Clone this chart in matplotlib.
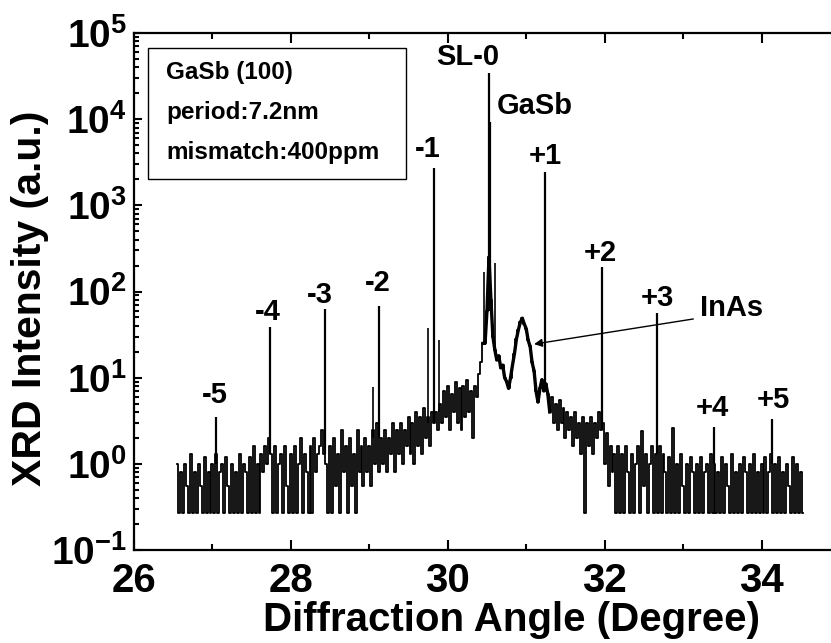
import matplotlib
matplotlib.use('Agg')
import matplotlib.pyplot as plt
import numpy as np
from matplotlib.patches import Rectangle

plt.rcParams['font.family'] = 'Liberation Sans'
plt.rcParams['font.weight'] = 'bold'
plt.rcParams['mathtext.fontset'] = 'custom'
plt.rcParams['mathtext.rm'] = 'Liberation Sans:bold'
plt.rcParams['mathtext.bf'] = 'Liberation Sans:bold'
plt.rcParams['axes.unicode_minus'] = False

# ---- scan, step 0.025 deg from 26.55 ----
scan_start, scan_step = 26.55, 0.025
F = 0.27  # detector floor
left_wing = [1.0, F, 0.8, F, 1.0, 0.55, F, 1.3, F, 0.8,
             F, 1.0, 0.55, F, 1.2, F, 0.8, F, 1.0, F,
             1.3, F, 0.8, 1.0, F, 1.2, 0.55, F, 1.0, F,
             0.8, F, 1.3, F, 1.0, 0.8, F, 1.2, F, 1.6,
             F, 1.0, F, 1.3, 0.8, 1.6, 1.0, 2.0, 1.3, F,
             1.6, F, 1.0, 1.3, F, 1.6, 0.55, F, 1.3, F,
             1.6, F, 1.0, 2.0, F, 1.3, 0.8, F, 1.6, F,
             2.0, 0.8, 1.3, 1.6, 2.5, 1.3, 1.0, F, 1.6, F,
             2.0, 0.55, 1.3, F, 2.5, 0.8, 1.6, F, 2.0, 0.55,
             1.3, F, 2.5, 0.8, 1.6]
left_rise = [0.55, 2.0, 0.8, 1.6, 0.55, 2.5, 1.0, 3.0, 0.8, 2.0,
             1.0, 2.5, 0.8, 2.0, 1.3, 3.0, 0.8, 2.5, 1.3, 3.0,
             1.0, 2.5, 1.6, 3.5, 1.3, 3.0, 1.0, 4.0, 1.6, 3.5,
             1.3, 4.5, 2.0, 3.5, 1.6, 4.0, 3.0, 4.0, 2.5, 5.0,
             3.0, 7.0, 3.5, 8.0, 2.5, 6.5, 4.0, 9.0, 3.0, 7.5,
             2.5, 8.0, 3.5, 9.5, 4.0, 7.0, 2.0, 8.0, 6.0, 11,
             15, 25]
center = [25, 60, 250, 80, 30, 21, 16, 18, 13, 14,
          10, 9, 7.5, 10, 14, 19, 28, 36, 44, 49,
          42, 37, 27, 23, 15, 12, 7, 5.2, 7.5, 9.5,
          7, 8.5]
right_fall = [6.5, 4.0, 6.0, 3.0, 5.0, 2.5, 5.5, 3.0, 4.5, 2.0,
              4.0, 2.5, 3.5, 1.6, 4.0, 2.0, 3.0, 1.3, 3.5, F,
              3.0, 1.6, 3.5, 1.3, 3.0, 2.0, 4.0, 2.5, 3.0, 1.0,
              2.3, 0.55, 1.6, 0.8, 1.3, F, 1.6, F]
right_wing = [1.3, F, 1.6, 0.8, F, 1.3, F, 1.0, 1.6, F,
              2.4, 0.55, 1.3, F, 1.0, 1.6, F, 1.3, F, 1.6,
              F, 1.3, 0.8, F, 1.2, F, 2.6, F, 1.0, F,
              1.3, 0.55, F, 1.0, F, 1.2, 0.8, F, 1.0, F,
              1.2, F, 0.8, 1.0, F, 1.3, F, 1.0, F, 0.8,
              F, 1.2, F, 1.0, 0.55, F, 1.3, F, 0.8, F,
              1.0, F, 1.2, 0.8, F, 1.0, F, 1.3, F, 0.8,
              F, 1.0, F, 1.2, F, 0.8, 1.3, F, 1.0, F,
              1.2, F, 0.8, F, 1.0, 0.55, F, 1.2, F, 1.0,
              F, 0.8, F]

# superlattice satellites + GaSb substrate peak
sat_x = [27.05, 27.73, 28.44, 29.125, 29.82, 30.52, 30.54, 31.24, 31.96, 32.67, 33.40, 34.13]
sat_top = [3.5, 39, 62, 68, 2700, 34000, 9200, 2450, 190, 56, 2.7, 3.3]
sat_base = [1.0, 1.3, 1.3, 2.0, 3.0, 60, 60, 8.5, 2.5, 1.3, 1.0, 1.0]
# small side spikes
side_x = [29.05, 29.745, 29.89, 30.46, 30.60]
side_top = [7.8, 37.6, 27, 168, 214]
side_base = [2.0, 3.0, 4.0, 25, 21]

order_labels = ['-5', '-4', '-3', '-2', '-1', 'SL-0', 'GaSb', '+1', '+2', '+3', '+4', '+5']
info_lines = ['GaSb (100)', 'period:7.2nm', 'mismatch:400ppm']

# ---- figure ----
W, H = 831, 643
fig = plt.figure(figsize=(W / 100, H / 100), dpi=100)
ax = fig.add_axes([134 / W, (H - 550) / H, (840 - 134) / W, (550 - 33) / H])

intensity = np.array(left_wing + left_rise + center + right_fall + right_wing)
angle = scan_start + scan_step * np.arange(intensity.size)
ax.plot(angle, intensity, color='k', lw=1.3, drawstyle='steps-mid')
# the bright middle part reads as a thick, smoother trace
i0 = len(left_wing) + len(left_rise) - 1
i1 = i0 + len(center) + 3
ax.plot(angle[i0:i1], intensity[i0:i1], color='k', lw=2.4)
ax.vlines(sat_x, sat_base, sat_top, colors='k', lw=1.6)
ax.vlines(side_x, side_base, side_top, colors='k', lw=1.2)

ax.set_yscale('log')
ax.set_xlim(26, 35)
ax.set_ylim(1e-1, 1e5)

ax.set_xticks([26, 28, 30, 32, 34])
ax.set_xticks([27, 29, 31, 33, 35], minor=True)
ax.set_xticklabels(['26', '28', '30', '32', '34'])
yt = [1e-1, 1e0, 1e1, 1e2, 1e3, 1e4, 1e5]
ax.set_yticks(yt)
ax.set_yticklabels([r'$\mathbf{10^{%d}}$' % int(np.log10(v)) for v in yt])
ax.yaxis.set_minor_locator(matplotlib.ticker.LogLocator(base=10, subs=np.arange(2, 10)))
ax.yaxis.set_minor_formatter(matplotlib.ticker.NullFormatter())

ax.tick_params(which='both', direction='in', width=1.5, top=True, right=False)
ax.tick_params(axis='x', which='major', length=7, labelsize=29, pad=9)
ax.tick_params(axis='x', which='minor', length=4)
ax.tick_params(axis='y', which='major', length=6, labelsize=28, pad=5)
ax.tick_params(axis='y', which='minor', length=3.5)
for sp in ['left', 'bottom', 'top']:
    ax.spines[sp].set_linewidth(1.6)

ax.set_xlabel('Diffraction Angle (Degree)', fontsize=29, fontweight='bold')
ax.xaxis.set_label_coords((511 - 134) / (840 - 134), -(620 - 550) / 517)
ax.xaxis.label.set_va('center')
ax.set_ylabel('XRD Intensity (a.u.)', fontsize=29.5, fontweight='bold')
ax.yaxis.set_label_coords(-(134 - 30) / 706, (550 - 298) / 517)
ax.yaxis.label.set_va('center')

# peak labels (positions in data coords)
label_pos = [(27.03, 6.3), (27.70, 58), (28.37, 91), (29.11, 125), (29.75, 4500),
             (30.25, 52000), (31.11, 14200), (31.24, 3700), (31.94, 280),
             (32.67, 84), (33.37, 4.4), (34.15, 5.5)]
for txt, (lx, ly) in zip(order_labels, label_pos):
    ax.text(lx, ly, txt, ha='center', va='center', fontsize=21, fontweight='bold')

ax.text(33.21, 64, 'InAs', ha='left', va='center', fontsize=21, fontweight='bold')
ax.annotate('', xy=(31.10, 24.5), xytext=(33.13, 48),
            arrowprops=dict(arrowstyle='-|>', color='k', lw=1.0,
                            mutation_scale=12, shrinkA=0, shrinkB=0))

# info box
fig.patches.append(Rectangle((148 / W, 1 - 179 / H), (406 - 148) / W, (179 - 48) / H,
                             transform=fig.transFigure, fill=False,
                             edgecolor='k', lw=1.0))
for i, line in enumerate(info_lines):
    fig.text(166 / W, 1 - (72 + 40 * i) / H, line, ha='left', va='center',
             fontsize=17.5, fontweight='bold')

fig.savefig('out.png', dpi=100)
